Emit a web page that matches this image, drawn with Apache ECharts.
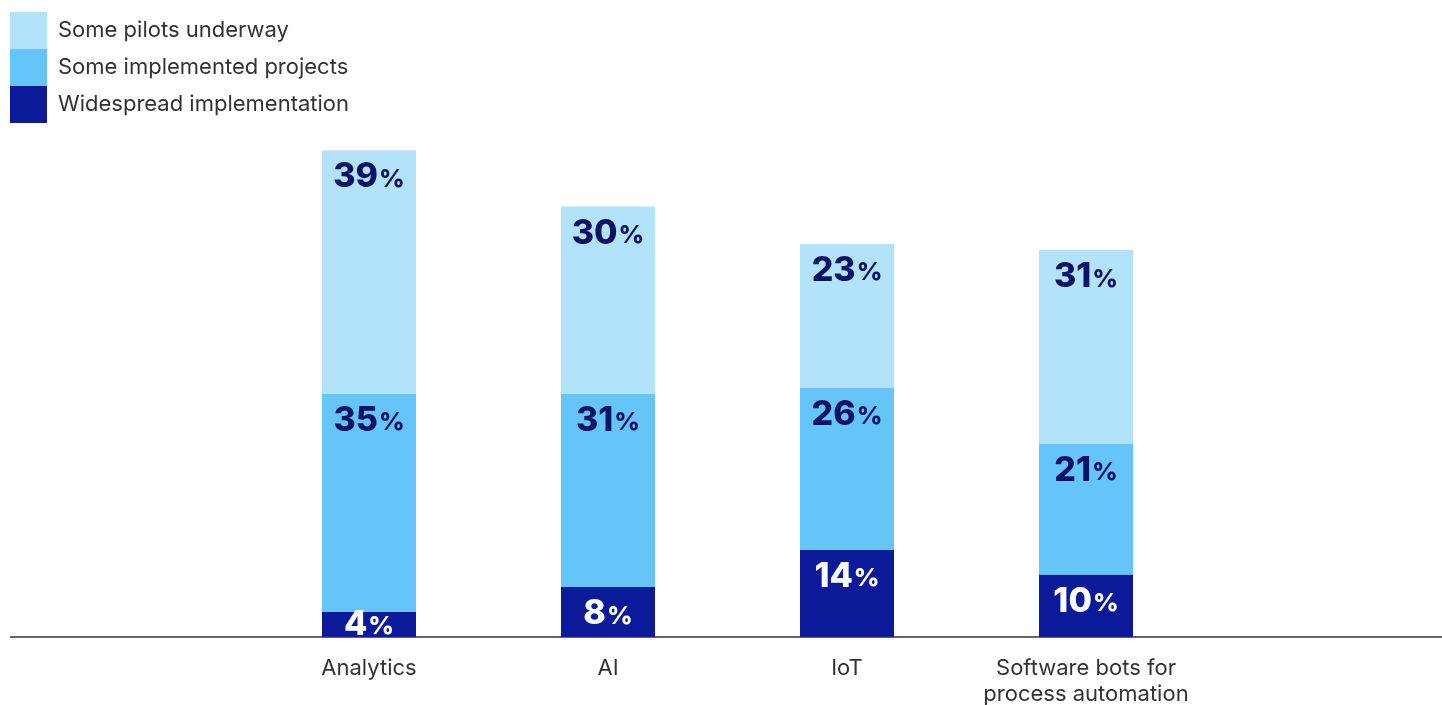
<!DOCTYPE html>
<html>
<head>
<meta charset="utf-8">
<script src="https://cdn.jsdelivr.net/npm/echarts@6/dist/echarts.min.js"></script>
<style>html,body{margin:0;padding:0;background:#fff}#c{width:1442px;height:705px}</style>
</head>
<body>
<div id="c"></div>
<script>
const categories = ['Analytics', 'AI', 'IoT', 'Software bots for\nprocess automation'];
const widespread = [4, 8, 14, 10];
const implemented = [35, 31, 26, 21];
const pilots = [39, 30, 23, 31];
const seriesNames = ['Some pilots underway', 'Some implemented projects', 'Widespread implementation'];
const colors = { pilots: '#b3e2fb', implemented: '#66c5f8', widespread: '#0a1a99' };

const FONT = 'Inter, "Noto Sans", sans-serif';
const cats = [''].concat(categories, ['']);

function mkData(arr) {
  const out = arr.map(v => v < 6 ? { value: v, label: { position: 'inside' } } : v);
  return ['-'].concat(out, ['-']);
}
function mkLabel(color) {
  return {
    show: true,
    position: 'insideTop',
    distance: 10,
    formatter: p => '{n|' + p.value + '}{p|%}',
    rich: {
      n: { fontSize: 34, fontWeight: 800, color: color, fontFamily: FONT },
      p: { fontSize: 25, fontWeight: 800, color: color, fontFamily: FONT, padding: [4, 0, 0, 1] }
    }
  };
}
function mkSeries(name, data, color, labelColor) {
  return {
    name: name, type: 'bar', stack: 'total', data: mkData(data), barWidth: 94,
    itemStyle: { color: color }, label: mkLabel(labelColor), emphasis: { disabled: true }
  };
}

const chart = echarts.init(document.getElementById('c'), null, { renderer: 'canvas' });
chart.setOption({
  animation: false,
  grid: { left: 10.5, right: -2.5, top: 13, bottom: 68, containLabel: false, outerBoundsMode: 'none' },
  legend: {
    data: seriesNames, orient: 'vertical', left: 10, top: 12, padding: 0,
    itemWidth: 37, itemHeight: 37, itemGap: 0, icon: 'rect',
    textStyle: { fontSize: 22, color: '#333', fontFamily: FONT, padding: [0, 0, 0, 6] },
    selectedMode: false
  },
  xAxis: {
    type: 'category', data: cats,
    axisLine: { lineStyle: { color: '#333', width: 1.5 } },
    axisTick: { show: false },
    axisLabel: { fontSize: 22, color: '#333', fontFamily: FONT, margin: 18, lineHeight: 26, interval: 0 }
  },
  yAxis: { type: 'value', min: 0, max: 100, show: false, splitLine: { show: false } },
  series: [
    mkSeries(seriesNames[2], widespread, colors.widespread, '#ffffff'),
    mkSeries(seriesNames[1], implemented, colors.implemented, '#0b1464'),
    mkSeries(seriesNames[0], pilots, colors.pilots, '#0b1464')
  ]
});
</script>
</body>
</html>
